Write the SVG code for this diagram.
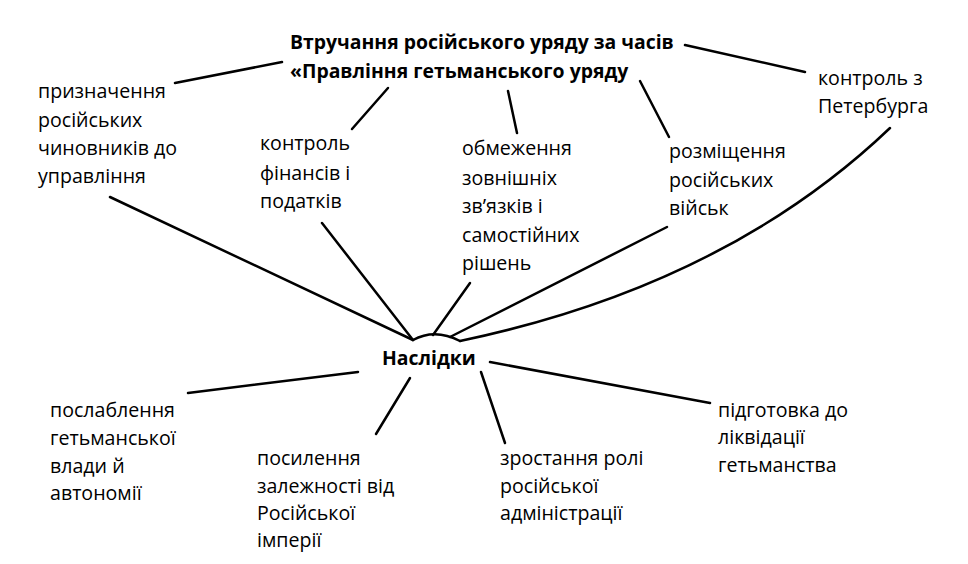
<svg xmlns="http://www.w3.org/2000/svg" width="968" height="564" viewBox="0 0 968 564">
<style>
text{font-family:"Open Sans","Noto Sans","DejaVu Sans",sans-serif;font-size:19.6px;fill:#000}
.b{font-weight:bold;font-size:19.4px}
.c path,.c line{stroke:#000;stroke-width:2.5;fill:none;stroke-linecap:round}
</style>
<rect width="968" height="564" fill="#fff"/>
<g class="c" id="connectors">
<line x1="685" y1="45" x2="805" y2="72"/>
<line x1="282" y1="62" x2="175" y2="83"/>
<line x1="388" y1="88" x2="352" y2="129"/>
<line x1="508" y1="91" x2="517" y2="133"/>
<line x1="640" y1="81" x2="669" y2="137"/>
<path d="M890,128 Q725,285.5 460,341"/>
<path d="M413,340 Q435,328 460,341"/>
<line x1="110" y1="197" x2="413" y2="340"/>
<line x1="322" y1="223" x2="413" y2="340"/>
<line x1="470" y1="283" x2="433" y2="335"/>
<line x1="667" y1="227" x2="450" y2="337"/>
<line x1="490" y1="362" x2="710" y2="403"/>
<line x1="481" y1="372" x2="505" y2="443"/>
<line x1="410" y1="378" x2="376" y2="434"/>
<line x1="358" y1="372" x2="188" y2="393"/>
</g>
<g id="title"><text class="b" x="290" y="49">Втручання російського уряду за часів</text><text class="b" x="290" y="78">«Правління гетьманського уряду</text></g>
<g id="n1"><text x="38" y="98">призначення</text><text x="38" y="127">російських</text><text x="38" y="155">чиновників до</text><text x="38" y="183">управління</text></g>
<g id="n2"><text x="260" y="150">контроль</text><text x="260" y="180">фінансів і</text><text x="260" y="208">податків</text></g>
<g id="n3"><text x="462" y="155">обмеження</text><text x="462" y="185">зовнішніх</text><text x="462" y="213">зв’язків і</text><text x="462" y="242">самостійних</text><text x="462" y="270">рішень</text></g>
<g id="n4"><text x="669" y="158">розміщення</text><text x="669" y="187">російських</text><text x="669" y="215">військ</text></g>
<g id="n5"><text x="818" y="85">контроль з</text><text x="818" y="113">Петербурга</text></g>
<g id="center"><text class="b" x="382" y="365">Наслідки</text></g>
<g id="r1"><text x="50" y="417">послаблення</text><text x="50" y="445">гетьманської</text><text x="50" y="473">влади й</text><text x="50" y="500">автономії</text></g>
<g id="r2"><text x="257" y="465">посилення</text><text x="257" y="493">залежності від</text><text x="257" y="520">Російської</text><text x="257" y="547">імперії</text></g>
<g id="r3"><text x="500" y="465">зростання ролі</text><text x="500" y="493">російської</text><text x="500" y="520">адміністрації</text></g>
<g id="r4"><text x="718" y="417">підготовка до</text><text x="718" y="444">ліквідації</text><text x="718" y="472">гетьманства</text></g>
</svg>
